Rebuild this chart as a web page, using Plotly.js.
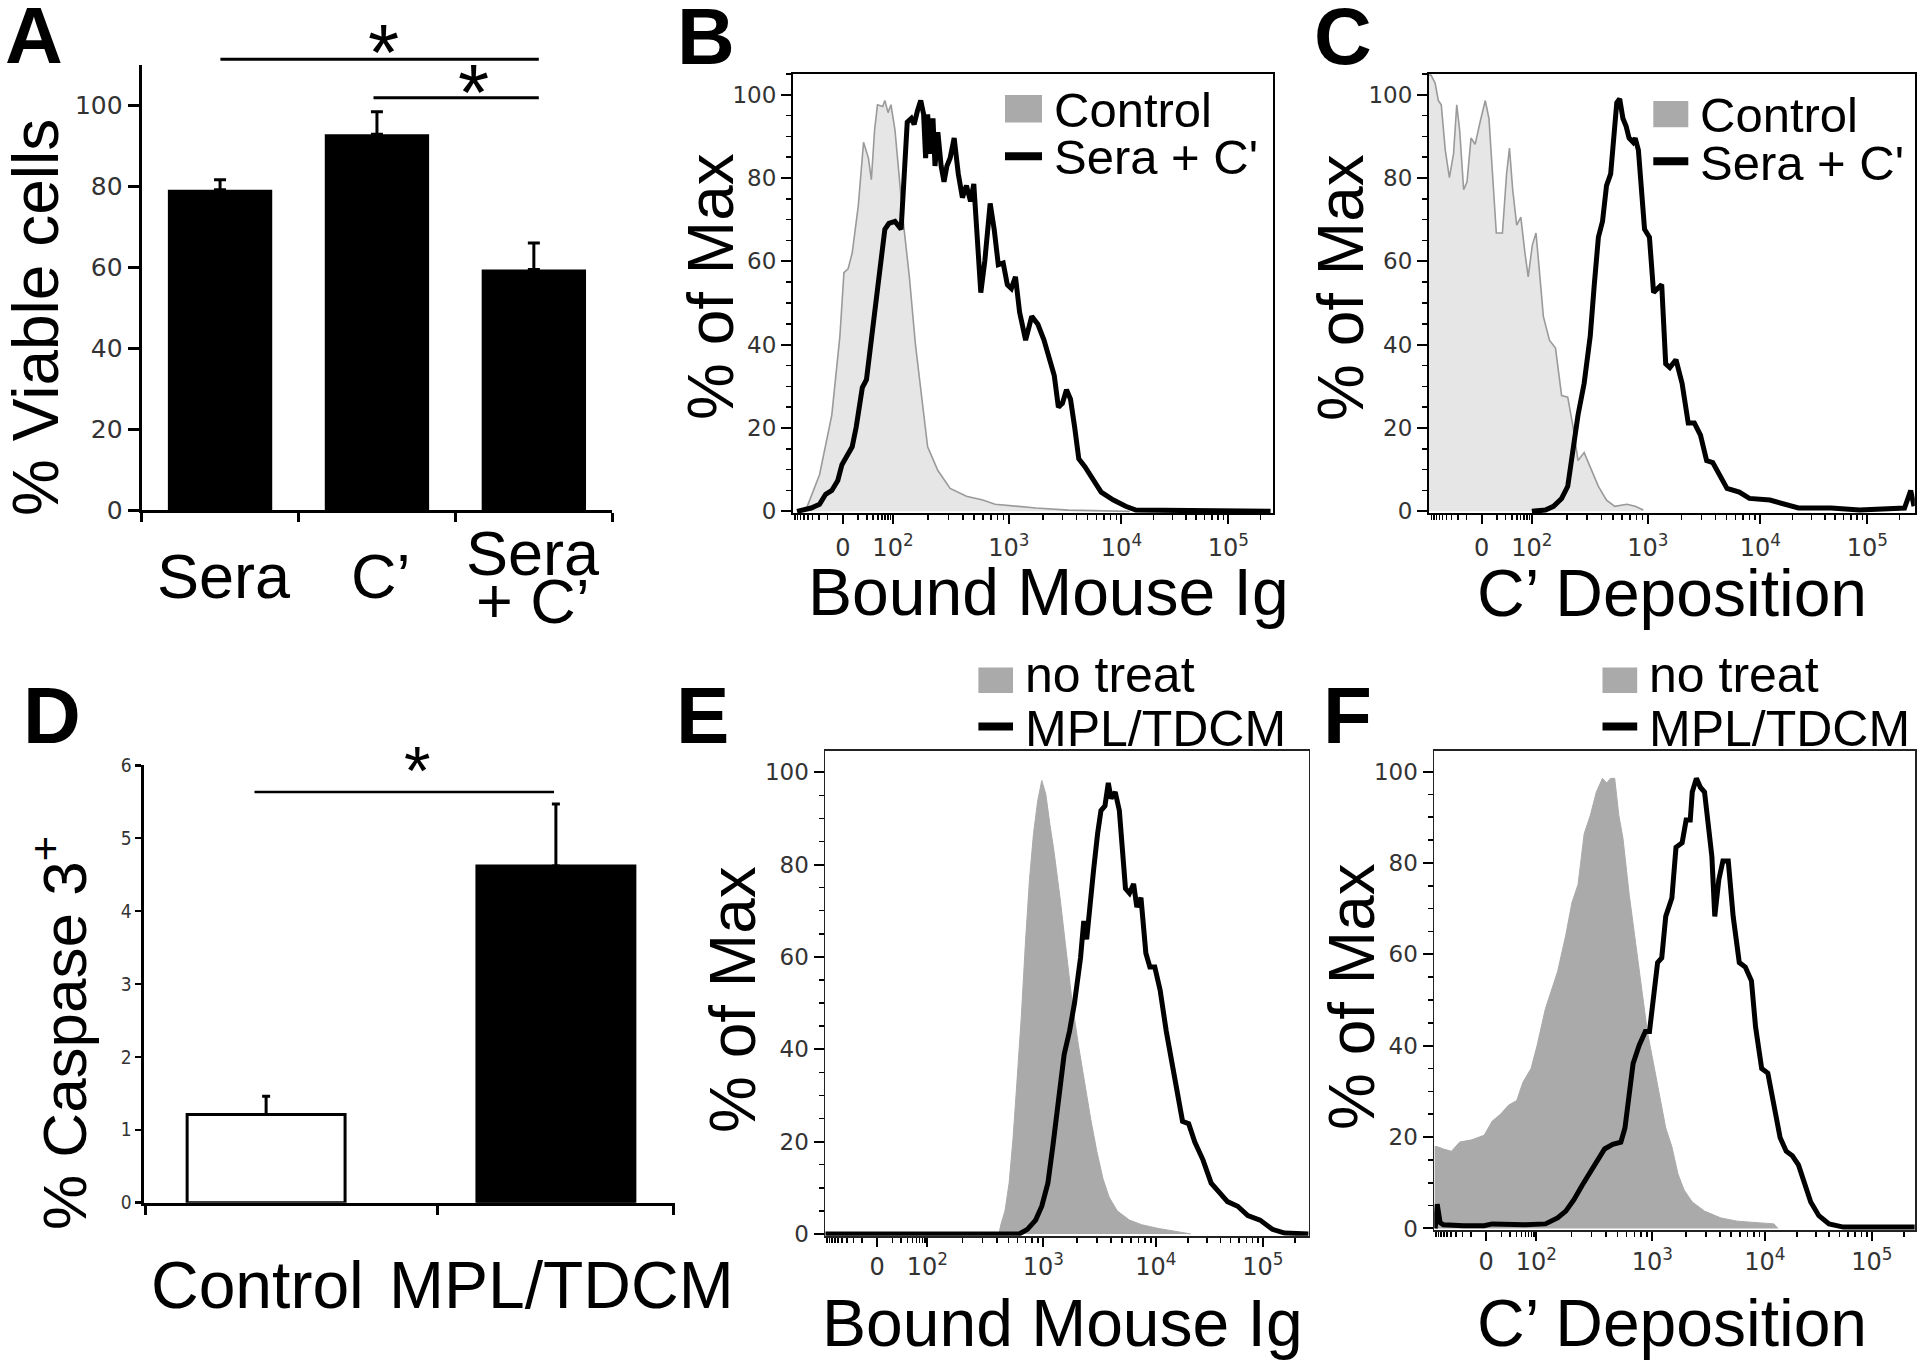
<!DOCTYPE html>
<html><head><meta charset="utf-8">
<script src="https://cdn.plot.ly/plotly-3.0.1.min.js"></script>
<style>html,body{margin:0;padding:0;background:#fff}#chart{width:1920px;height:1362px}</style>
</head><body><div id="chart"></div>
<script>
// ---------------- Panel A: % viable cells ----------------
const aCategories = ['Sera', 'C’', 'Sera + C’'];
const aViable = [79.2, 92.9, 59.5];
const aErrorUp = [2.5, 5.6, 6.5];

// ---------------- Panel D: % caspase 3+ ----------------
const dCategories = ['Control', 'MPL/TDCM'];
const dCaspase = [1.21, 4.62];
const dErrorUp = [0.25, 0.85];
const dColors = ['#ffffff', '#000000'];

// ---------------- Flow axis ticks (biexponential display positions) ----------------
const flowTickVals = [1.55, 2, 3.04, 4.05, 5.01];
const flowTickText = ['0', '10<sup>2</sup>', '10<sup>3</sup>', '10<sup>4</sup>', '10<sup>5</sup>'];

// ---------------- Panel B: Bound Mouse Ig ----------------
const bControlX = [1.194,1.231,1.341,1.451,1.524,1.560,1.597,1.634,1.689,1.736,1.780,1.806,1.835,1.861,1.908,1.927,1.956,1.982,2.018,2.055,2.092,2.147,2.201,2.256,2.311,2.403,2.513,2.659,2.806,2.916,3.099,3.282,3.575,4.125];
const bControlY = [0,1.2,8.8,23.1,42.1,57.3,58.2,62,73.4,88.6,84.8,79.6,91.5,97.6,97.2,98.6,95.7,97.6,91.5,80.1,69.6,56.3,40.2,27.8,15.5,9.8,5.5,3.6,2.7,1.7,1.2,0.8,0.3,0];
const bSeraX = [1.139,1.267,1.341,1.396,1.451,1.505,1.542,1.579,1.634,1.670,1.725,1.762,1.799,1.853,1.890,1.927,1.963,2.018,2.073,2.110,2.128,2.165,2.190,2.220,2.249,2.275,2.293,2.311,2.337,2.359,2.377,2.403,2.432,2.458,2.484,2.513,2.549,2.586,2.623,2.659,2.696,2.725,2.762,2.788,2.824,2.872,2.908,2.945,2.989,3.026,3.062,3.099,3.136,3.190,3.245,3.300,3.355,3.410,3.447,3.484,3.520,3.557,3.593,3.630,3.667,3.722,3.795,3.868,3.978,4.088,4.179,5.388];
const bSeraY = [0,0.8,1.7,4.1,5,7.4,11.2,13.1,15.5,20.2,29.7,31.6,39.2,51.6,58.2,67.7,69.1,69.6,67.7,82.9,93.4,94.3,92.9,96.2,98.6,95.3,84.8,95.3,85.8,94.3,82.9,91,82.9,79.1,82.9,84.8,89.6,81,75.3,78.2,74.4,78.6,62,52.5,60.1,73.9,67.7,59.2,59.6,54.4,53.5,56.3,47.8,41.1,46.8,44.9,41.1,35.4,32.6,25,25.9,29.2,26.9,20.2,12.6,10.7,7.9,4.6,2.7,1.2,0.3,0];

// ---------------- Panel C: C' deposition ----------------
const cControlX = [1.077,1.095,1.132,1.161,1.187,1.223,1.260,1.297,1.326,1.352,1.388,1.418,1.454,1.491,1.535,1.582,1.615,1.645,1.681,1.736,1.773,1.799,1.828,1.864,1.901,1.938,1.967,2.004,2.037,2.066,2.103,2.158,2.212,2.267,2.322,2.370,2.414,2.469,2.524,2.597,2.670,2.744,2.853,2.927,3.000];
const cControlY = [104.7,104.7,102.8,98.6,97.6,86.7,80.1,85.8,97.6,91.5,77.2,79.1,89.6,88.1,93.4,98.6,94.3,82.9,66.8,66.8,81,87.2,77.2,68.7,70.6,62,56.3,63.9,66.8,58.2,46.8,41.1,39.2,27.8,27.4,20.2,12.2,14.1,10.7,6,2.7,1.2,1.7,1.2,0.3];
const cSeraX = [2.0,2.121,2.194,2.267,2.322,2.359,2.414,2.469,2.524,2.560,2.597,2.634,2.670,2.707,2.736,2.762,2.788,2.817,2.846,2.872,2.908,2.927,2.956,2.982,3.011,3.055,3.092,3.128,3.165,3.201,3.238,3.293,3.348,3.403,3.458,3.513,3.568,3.623,3.678,3.751,3.861,3.952,4.136,4.282,4.392,4.685,4.941,5.344,5.399,5.429];
const cSeraY = [0,0.3,1.2,3.1,6,13.6,23.1,30.7,42.1,54.4,65.8,69.6,78.2,81,91.5,98.1,99,94.3,92.4,89.6,88.6,89.6,86.7,78.2,67.7,65.8,52.5,53.5,54.4,35.4,34.5,36.4,30.7,21.2,21.2,18.3,12.2,11.7,8.8,5.5,4.6,3.1,2.7,1.7,0.8,0.8,0.3,0.8,5,1.2];

// ---------------- Panel E: Bound Mouse Ig (MPL/TDCM) ----------------
const eNoTreatX = [1.084,2.641,2.659,2.696,2.733,2.769,2.806,2.842,2.879,2.916,2.952,2.989,3.026,3.062,3.099,3.136,3.190,3.245,3.300,3.355,3.410,3.465,3.520,3.575,3.630,3.703,3.813,3.923,4.070,4.253,4.363];
const eNoTreatY = [0,0,2,5,11,20.9,33.9,46.9,62.8,76.8,86.7,93.7,98.2,95.3,88.7,82.8,72.8,60.8,49.9,40.9,32.9,24.9,17.9,12,8,5,3,2,1.2,0.5,0];
const eMplX = [1.084,2.824,2.897,2.971,3.026,3.081,3.125,3.172,3.227,3.275,3.319,3.374,3.403,3.429,3.447,3.491,3.527,3.557,3.593,3.623,3.648,3.685,3.722,3.751,3.777,3.813,3.850,3.879,3.916,3.960,3.996,4.040,4.088,4.143,4.198,4.245,4.289,4.344,4.399,4.473,4.546,4.619,4.692,4.784,4.875,4.985,5.095,5.205,5.42];
const eMplY = [0,0,1,3,6,11,18.9,28.9,38.9,43.9,49.9,59.8,67.8,63.8,68.8,78.8,86.7,91.7,92.7,97.7,94.3,95.7,91.7,83.7,74.8,73.8,75.8,70.8,72.8,60.8,57.8,57.8,52.8,43.9,36.9,30.9,24.4,23.9,19.9,16,11,9,7,6,4,3,1,0.2,0];

// ---------------- Panel F: C' deposition (MPL/TDCM) ----------------
const fNoTreatX = [1.086,1.110,1.165,1.238,1.311,1.421,1.531,1.604,1.678,1.751,1.824,1.879,1.952,2.007,2.081,2.136,2.190,2.264,2.319,2.374,2.429,2.484,2.538,2.593,2.630,2.667,2.703,2.740,2.777,2.832,2.886,2.941,2.996,3.051,3.106,3.161,3.216,3.271,3.326,3.399,3.509,3.656,3.802,3.949,4.132,4.168];
const fNoTreatY = [17.9,17.9,17.4,16.9,18.9,19.4,20.4,23.5,25,27,28,32,35,40.1,48.1,52.2,56.2,64.2,71.3,75.3,86.4,90.4,95.5,98.5,97.5,98.5,98.5,90.4,85.4,73.3,63.2,52.2,43.1,36.1,29,22,17.9,11.9,8.4,5.8,3.8,2.3,1.6,1.3,1,0];
const fMplX = [1.092,1.110,1.136,1.165,1.348,1.531,1.604,1.897,2.081,2.190,2.264,2.337,2.410,2.484,2.557,2.612,2.685,2.758,2.795,2.832,2.868,2.923,2.978,3.015,3.051,3.088,3.125,3.161,3.216,3.253,3.308,3.344,3.381,3.399,3.436,3.473,3.509,3.538,3.575,3.601,3.637,3.674,3.722,3.766,3.821,3.875,3.930,3.967,4.022,4.077,4.132,4.187,4.242,4.297,4.352,4.407,4.462,4.535,4.626,4.755,5.396];
const fMplY = [0,5.3,1.3,0.8,0.6,0.6,1,0.8,1,2.3,3.8,6.3,9.4,12.4,14.9,17.4,18.4,18.9,22,30,36.1,40.1,43.1,43.1,50.2,58.2,59.2,68.3,72.3,83.4,84.4,89.4,89.4,95.5,98.5,96.5,95.5,88.4,81.4,68.3,76.3,80.4,80.4,68.3,58.2,57.2,54.2,44.1,35,34,27,19.9,16.9,15.9,13.9,9.9,5.8,2.8,1,0.3,0.3];

// ---------------- helpers ----------------
const W = 1920, H = 1362;
const px = v => v / W;
const py = v => 1 - v / H;
const FONT = 'Liberation Sans, Arial, Helvetica, sans-serif';
const TICKFONT = 'DejaVu Sans, Verdana, sans-serif';
const NARROW = 'DejaVu Sans Condensed, Liberation Sans Narrow, Arial Narrow, sans-serif';

function flowMinorTicks(lo, hi) {
  const decs = flowTickVals.slice(1);
  decs.push(decs[decs.length - 1] + (decs[decs.length - 1] - decs[decs.length - 2]));
  const u0 = flowTickVals[0];
  const out = [u0 - (decs[0] - u0)];
  for (let k = 2; k <= 9; k++) {
    const f = Math.log10(k);
    out.push(u0 + (decs[0] - u0) * f);
    out.push(u0 - (decs[0] - u0) * f);
    for (let i = 0; i < decs.length - 1; i++) out.push(decs[i] + (decs[i + 1] - decs[i]) * f);
  }
  return out.filter(v => v > lo + 0.005 && v < hi - 0.005);
}

function flowX(l, r, lo, hi, anchor, standoff, lc, lw) {
  return {domain: [px(l), px(r)], anchor, range: [lo, hi], tickmode: 'array',
    tickvals: flowTickVals, ticktext: flowTickText, ticks: 'outside', ticklen: 9, tickwidth: 2,
    tickcolor: '#000', showline: true, mirror: true, linewidth: lw, linecolor: lc,
    tickfont: {family: TICKFONT, size: 24, color: '#333'}, ticklabelstandoff: standoff,
    minor: {tickmode: 'array', tickvals: flowMinorTicks(lo, hi), ticks: 'outside', ticklen: 5, tickwidth: 1.5, tickcolor: '#000'},
    showgrid: false, zeroline: false, fixedrange: true};
}
function flowY(top, bottom, hi, anchor, lc, lw) {
  return {domain: [py(bottom), py(top)], anchor, range: [-0.4, hi], tickmode: 'linear', tick0: 0, dtick: 20,
    ticks: 'outside', ticklen: 10, tickwidth: 2, tickcolor: '#000', showline: true, mirror: true,
    linewidth: lw, linecolor: lc, tickfont: {family: TICKFONT, size: 23, color: '#333'},
    minor: {tick0: 0, dtick: 5, ticks: 'outside', ticklen: 5, tickwidth: 1.5, tickcolor: '#000'},
    showgrid: false, zeroline: false, fixedrange: true};
}

function grayTrace(x, y, xa, ya, fill, line, lw) {
  return {type: 'scatter', mode: 'lines', x, y, xaxis: xa, yaxis: ya, fill: 'tozeroy',
    fillcolor: fill, line: {color: line, width: lw}, hoverinfo: 'skip'};
}
function blackTrace(x, y, xa, ya) {
  return {type: 'scatter', mode: 'lines', x, y, xaxis: xa, yaxis: ya,
    line: {color: '#000', width: 5}, hoverinfo: 'skip'};
}

const traces = [
  {type: 'bar', x: aCategories, y: aViable, xaxis: 'x', yaxis: 'y', marker: {color: '#000'},
   error_y: {type: 'data', symmetric: false, array: aErrorUp, arrayminus: aErrorUp.map(() => 0), color: '#000', thickness: 3, width: 6}},
  {type: 'bar', x: dCategories.map((c, i) => i), y: dCaspase, xaxis: 'x2', yaxis: 'y2', width: 0.545,
   marker: {color: dColors, line: {color: '#000', width: 3}},
   error_y: {type: 'data', symmetric: false, array: dErrorUp, arrayminus: dErrorUp.map(() => 0), color: '#000', thickness: 3, width: 4}},
  grayTrace(bControlX, bControlY, 'x3', 'y3', '#e6e6e6', '#9a9a9a', 1.6),
  blackTrace(bSeraX, bSeraY, 'x3', 'y3'),
  grayTrace(cControlX, cControlY, 'x4', 'y4', '#e6e6e6', '#9a9a9a', 1.6),
  blackTrace(cSeraX, cSeraY, 'x4', 'y4'),
  grayTrace(eNoTreatX, eNoTreatY, 'x5', 'y5', '#aaaaaa', '#aaaaaa', 1),
  blackTrace(eMplX, eMplY, 'x5', 'y5'),
  grayTrace(fNoTreatX, fNoTreatY, 'x6', 'y6', '#aaaaaa', '#aaaaaa', 1),
  blackTrace(fMplX, fMplY, 'x6', 'y6')
];

function ann(text, x, y, size, extra) {
  return Object.assign({text, x: px(x), y: py(y), xref: 'paper', yref: 'paper', showarrow: false,
    xanchor: 'center', yanchor: 'middle', font: {family: FONT, size, color: '#000'}}, extra || {});
}
function hline(x0, x1, y, w) {
  return {type: 'line', xref: 'paper', yref: 'paper', x0: px(x0), x1: px(x1), y0: py(y), y1: py(y), line: {color: '#000', width: w}};
}
function box(x0, x1, y0, y1, c) {
  return {type: 'rect', xref: 'paper', yref: 'paper', x0: px(x0), x1: px(x1), y0: py(y1), y1: py(y0), fillcolor: c, line: {width: 0}};
}

const annotations = [
  // panel letters
  ann('<b>A</b>', 33.5, 36, 80), ann('<b>B</b>', 706, 37, 80), ann('<b>C</b>', 1343, 37, 80),
  ann('<b>D</b>', 52, 715, 80), ann('<b>E</b>', 702.5, 715, 80), ann('<b>F</b>', 1347.5, 715, 80),
  // panel A
  ann('% Viable cells', 36, 318, 64, {textangle: -90}),
  ann(aCategories[0], 224, 576, 63),
  ann(aCategories[1], 381, 576, 63),
  ann(aCategories[2].split(' + ')[0], 533, 553, 63),
  ann('+ ' + aCategories[2].split(' + ')[1], 533, 601, 63),
  ann('*', 383.7, 53, 80), ann('*', 473.5, 93, 80),
  // panel B
  ann('% of Max', 711, 287, 64, {textangle: -90}),
  ann('Bound Mouse Ig', 1048, 592, 66),
  ann('Control', 1052, 110, 49, {xanchor: 'left'}),
  ann("Sera + C'", 1052, 157, 49, {xanchor: 'left'}),
  // panel C
  ann('% of Max', 1341, 288, 64, {textangle: -90}),
  ann('C’ Deposition', 1672, 593, 66),
  ann('Control', 1698, 115, 49, {xanchor: 'left'}),
  ann("Sera + C'", 1698, 163, 49, {xanchor: 'left'}),
  // panel D
  ann('% Caspase 3<sup>+</sup>', 60, 1033, 62, {textangle: -90}),
  ann(dCategories[0], 257, 1285, 66),
  ann(dCategories[1], 561, 1285, 66),
  ann('*', 416.8, 770, 68),
  // panel E
  ann('% of Max', 733, 1000, 64, {textangle: -90}),
  ann('Bound Mouse Ig', 1062, 1323, 66),
  ann('no treat', 1023, 675, 50, {xanchor: 'left'}),
  ann('MPL/TDCM', 1023, 729, 50, {xanchor: 'left'}),
  // panel F
  ann('% of Max', 1352, 997, 64, {textangle: -90}),
  ann('C’ Deposition', 1672, 1323, 66),
  ann('no treat', 1647, 675, 50, {xanchor: 'left'}),
  ann('MPL/TDCM', 1647, 729, 50, {xanchor: 'left'})
];

const shapes = [
  hline(220.4, 538.8, 59.3, 3), hline(373.5, 538.8, 97.7, 3),
  hline(254.5, 554, 792, 2.5),
  box(1005, 1042, 95, 122.6, '#aaaaaa'), hline(1005, 1042, 156.2, 8),
  box(1653.3, 1688.3, 101, 127.3, '#aaaaaa'), hline(1653.3, 1688.3, 161.3, 8),
  box(978.4, 1013, 667.6, 693, '#aaaaaa'), hline(978.4, 1013, 726.6, 8),
  box(1602.5, 1637.2, 667.6, 693, '#aaaaaa'), hline(1602.5, 1637.2, 726.6, 8)
];

const layout = {
  width: W, height: H, autosize: false, margin: {l: 0, r: 0, t: 0, b: 0, pad: 0},
  paper_bgcolor: '#fff', plot_bgcolor: 'rgba(0,0,0,0)', showlegend: false, bargap: 0.335,
  font: {family: FONT, color: '#000'},
  xaxis: {domain: [px(141.6), px(612.3)], anchor: 'y', type: 'category', range: [-0.5, 2.5],
    showline: true, linewidth: 3, linecolor: '#000', ticks: 'outside', tickson: 'boundaries',
    ticklen: 9, tickwidth: 3, tickcolor: '#000', showticklabels: false, showgrid: false, zeroline: false, fixedrange: true},
  yaxis: {domain: [py(510), py(65.2)], anchor: 'x', range: [0, 110], tickmode: 'array',
    tickvals: [0, 20, 40, 60, 80, 100], ticks: 'outside', ticklen: 11, tickwidth: 3, tickcolor: '#000',
    showline: true, linewidth: 3, linecolor: '#000', tickfont: {family: TICKFONT, size: 25, color: '#333'},
    showgrid: false, zeroline: false, fixedrange: true},
  xaxis2: {domain: [px(144.4), px(674.7)], anchor: 'y2', range: [-0.42, 1.41], tickmode: 'array',
    tickvals: [-0.417, 0.592, 1.405], ticks: 'outside', ticklen: 9, tickwidth: 3, tickcolor: '#000',
    showticklabels: false, showline: true, linewidth: 3, linecolor: '#000', showgrid: false, zeroline: false, fixedrange: true},
  yaxis2: {domain: [py(1202.7), py(765.3)], anchor: 'x2', range: [0, 6], tickmode: 'linear', tick0: 0, dtick: 1,
    ticks: 'outside', ticklen: 6, tickwidth: 2.5, tickcolor: '#000', showline: true, linewidth: 3, linecolor: '#000',
    tickfont: {family: NARROW, size: 19, color: '#333'}, showgrid: false, zeroline: false, fixedrange: true},
  xaxis3: flowX(793, 1272.7, 1.103, 5.407, 'y3', 3, '#000', 2),
  yaxis3: flowY(73.9, 513, 105, 'x3', '#000', 2),
  xaxis4: flowX(1429, 1914.8, 1.077, 5.436, 'y4', 3, '#000', 2),
  yaxis4: flowY(73.9, 513, 105, 'x4', '#000', 2),
  xaxis5: flowX(825.3, 1308.6, 1.084, 5.42, 'y5', 0, '#222', 1.8),
  yaxis5: flowY(750.5, 1235.8, 104.7, 'x5', '#222', 1.8),
  xaxis6: flowX(1434.3, 1914.8, 1.084, 5.396, 'y6', 0, '#222', 1.8),
  yaxis6: flowY(750.5, 1230.3, 104.6, 'x6', '#222', 1.8),
  annotations, shapes
};

Plotly.newPlot('chart', traces, layout, {displayModeBar: false, staticPlot: true});
</script>
</body></html>
